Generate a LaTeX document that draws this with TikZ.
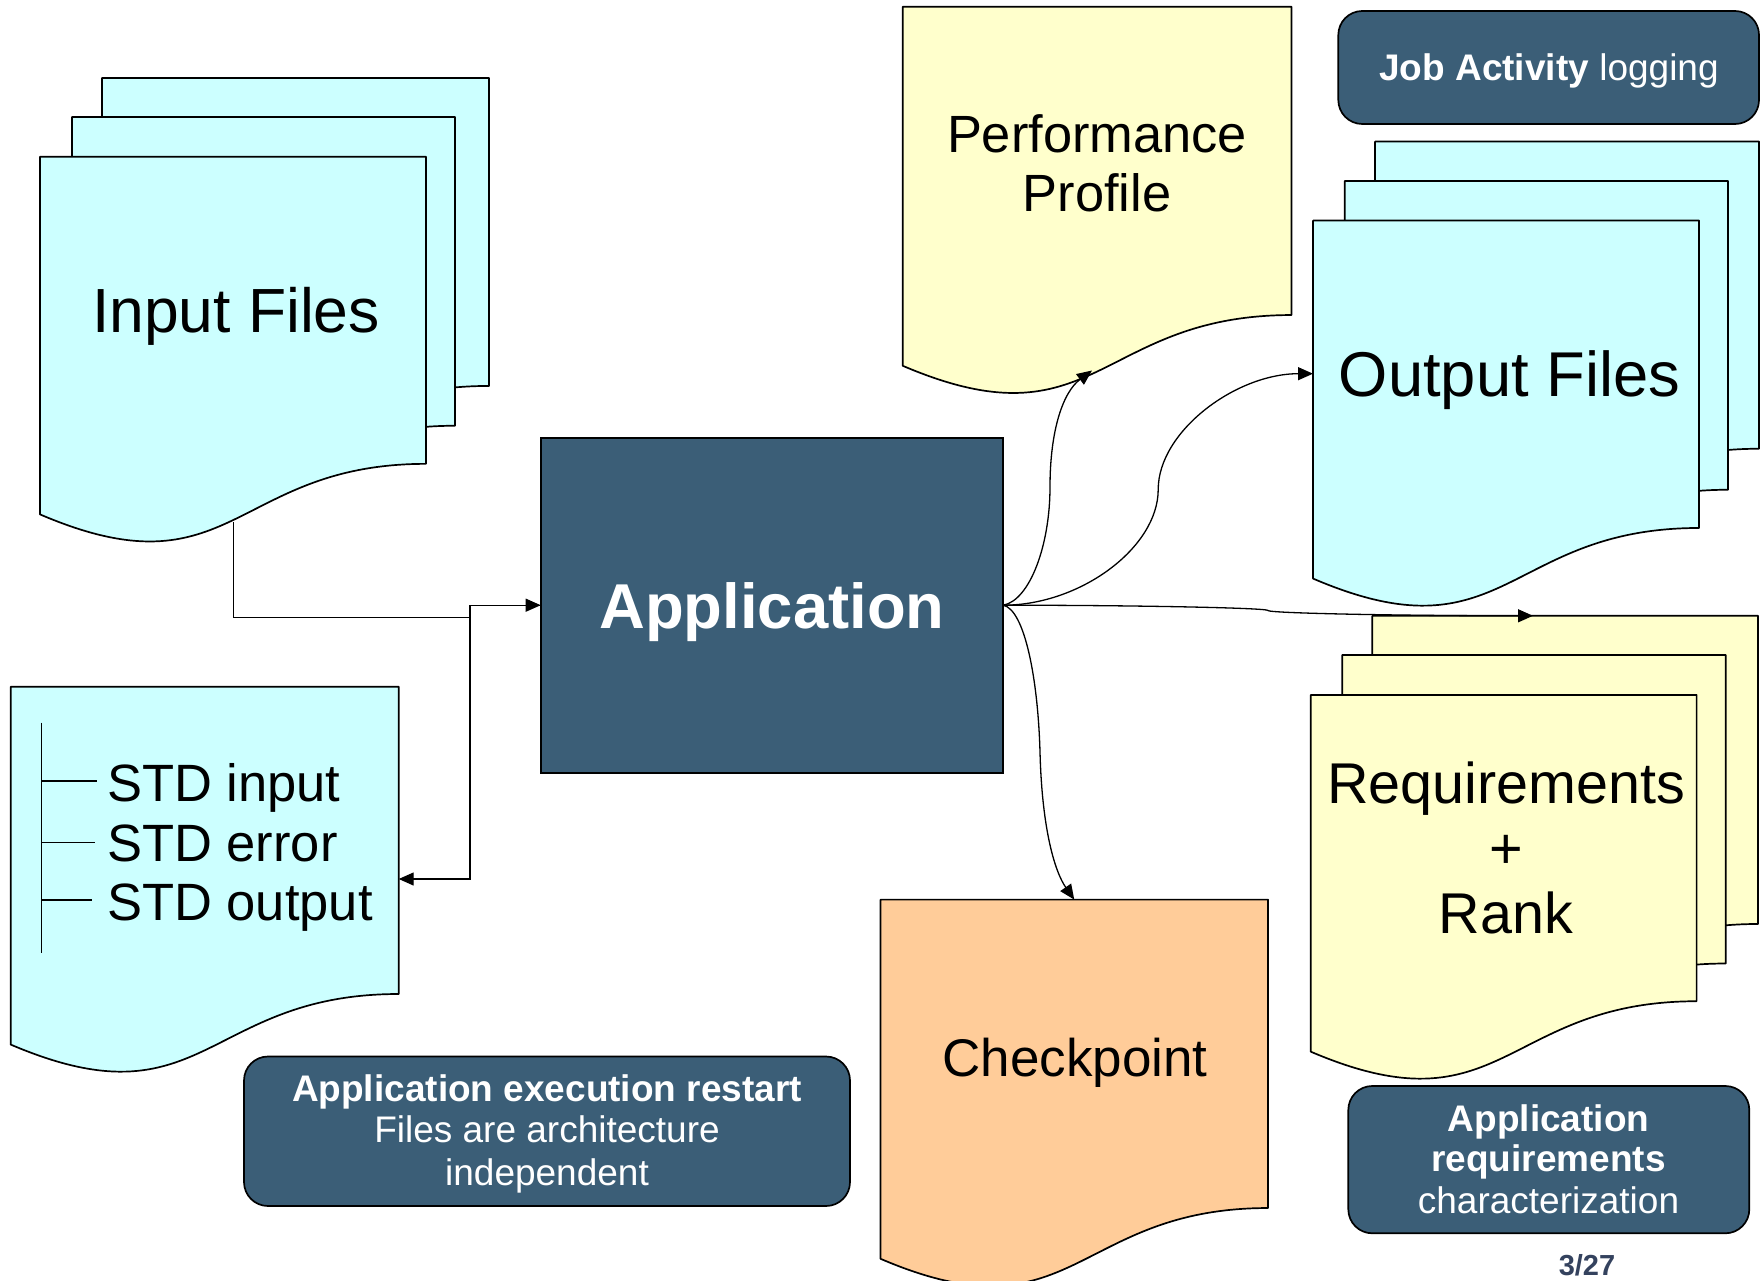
\documentclass[tikz,border=0pt]{standalone}
\usepackage{fontspec}
\setmainfont{Liberation Sans}
\usetikzlibrary{arrows.meta,calc}

\definecolor{paperblue}{RGB}{204,255,255}
\definecolor{paperyellow}{RGB}{255,255,204}
\definecolor{paperorange}{RGB}{255,204,153}
\definecolor{slate}{RGB}{59,94,119}
\definecolor{pagenum}{RGB}{52,66,94}

\newcommand\fsz[1]{\fontsize{#1}{#1}\selectfont}

% a document sheet with a wavy lower edge, drawn over an invisible frame node
% #1 name, #2 left, #3 top, #4 width, #5 height, #6 fill colour
\newcommand\sheet[6]{%
  \node[frame, minimum width=#4pt, minimum height=#5pt] (#1) at (#2,#3) {};
  \draw[pageline, fill=#6] (#1.north west) -- (#1.north east)
    -- ($(#1.north east)!0.80194!(#1.south east)$)
    .. controls ($(#1.north)!0.80194!(#1.south)$) and ($(#1.north)!1.15!(#1.south)$)
    .. ($(#1.north west)!0.93389!(#1.south west)$) -- cycle;}

\tikzset{
  pageline/.style={draw=black, line width=1.7pt, line join=round},
  frame/.style={inner sep=0pt, outer sep=0pt, draw=none, anchor=north west},
  conn/.style={line width=1.3pt, -{Triangle[length=15pt,width=13pt]}},
  plain/.style={line width=1.3pt},
  lbl/.style={inner sep=0pt, anchor=base, text=black},
  wlbl/.style={inner sep=0pt, anchor=base, text=white},
  callout/.style={draw=black, line width=1.7pt, fill=slate, rounded corners=24pt,
    inner sep=0pt, outer sep=0pt, anchor=north west},
  appbox/.style={draw=black, line width=1.7pt, fill=slate, inner sep=0pt,
    outer sep=0pt, anchor=north west},
}

\begin{document}
\begin{tikzpicture}[x=1pt, y=-1pt]
\useasboundingbox (0,0) rectangle (1761,1281);

% input file stack
\sheet{inBack}{102}{78}{387}{384}{paperblue}
\sheet{inMid}{72}{117}{383}{385}{paperblue}
\sheet{inFront}{40}{156.7}{386}{383}{paperblue}
\node[lbl, font=\fsz{62.4}] (inTxt) at (236,332) {Input Files};

% standard streams sheet
\sheet{stdSheet}{10.7}{686.7}{388}{383.2}{paperblue}
\draw[plain] (41.7,722.7) -- (41.7,953);
\draw[plain] (41.7,781) -- (97,781);
\draw[plain] (41.7,842.7) -- (95,842.7);
\draw[plain] (41.7,900) -- (92,900);
\node[lbl, anchor=base west, font=\fsz{52.5}] (stdA) at (107,801.7) {STD input};
\node[lbl, anchor=base west, font=\fsz{52.5}] (stdB) at (107,861.7) {STD error};
\node[lbl, anchor=base west, font=\fsz{52.5}] (stdC) at (107,920) {STD output};

% performance profile
\sheet{perfSheet}{902.7}{6.7}{388.8}{384.5}{paperyellow}
\node[lbl, font=\fsz{52.4}] (perfA) at (1097,153) {Performance};
\node[lbl, font=\fsz{52.4}] (perfB) at (1097,212) {Profile};

% output file stack
\sheet{outBack}{1375}{141.6}{384}{383}{paperblue}
\sheet{outMid}{1344.8}{181}{383.2}{385}{paperblue}
\sheet{outFront}{1313}{220.6}{386}{383.3}{paperblue}
\node[lbl, font=\fsz{63.3}] (outTxt) at (1509.5,396) {Output Files};

% requirements stack
\sheet{rqBack}{1372.3}{615.8}{385.7}{384.3}{paperyellow}
\sheet{rqMid}{1342.2}{655}{383.5}{384.7}{paperyellow}
\sheet{rqFront}{1310.7}{694.9}{385.9}{382}{paperyellow}
\node[lbl, font=\fsz{57.5}] (rqA) at (1506,803) {Requirements};
\node[lbl, font=\fsz{57.5}] (rqB) at (1506,868) {+};
\node[lbl, font=\fsz{57.5}] (rqC) at (1506,933.5) {Rank};

% checkpoint
\sheet{ckSheet}{880.5}{899.6}{387.5}{384.6}{paperorange}
\node[lbl, font=\fsz{53}] (ckTxt) at (1075,1076) {Checkpoint};

% application
\node[appbox, minimum width=462.6pt, minimum height=335pt] (app) at (540.7,437.7) {};
\node[wlbl, font=\bfseries\fsz{63.4}] (appTxt) at (772,628.3) {Application};

% callouts
\node[callout, minimum width=420.7pt, minimum height=113pt] (jobBox) at (1338.3,11) {};
\node[wlbl, font=\fsz{37}] (jobTxt) at (1549,81) {\textbf{Job Activity} logging};

\node[callout, minimum width=606pt, minimum height=149.5pt] (restartBox) at (244,1056.5) {};
\node[wlbl, font=\bfseries\fsz{37}] (restartA) at (547,1101.7) {Application execution restart};
\node[wlbl, font=\fsz{37}] (restartB) at (547,1142.7) {Files are architecture};
\node[wlbl, font=\fsz{37}] (restartC) at (547,1185) {independent};

\node[callout, minimum width=401pt, minimum height=147.3pt] (reqBox) at (1348.3,1086) {};
\node[wlbl, font=\bfseries\fsz{37}] (reqA) at (1548.5,1131.7) {Application};
\node[wlbl, font=\bfseries\fsz{37}] (reqB) at (1548.5,1171.7) {requirements};
\node[wlbl, font=\fsz{37}] (reqC) at (1548.5,1213.3) {characterization};

\node[inner sep=0pt, anchor=base, text=pagenum, font=\bfseries\fsz{29}] (pageNo) at (1587,1275) {3/27};

% connection points
\coordinate (inOut) at (233.3,522);
\coordinate (busIn) at (470,617.3);
\coordinate (busTop) at (470,605.2);
\coordinate (busBot) at (470,879);
\coordinate (stdPort) at (stdSheet.north east |- busBot);
\coordinate (perfPort) at (1092,370.5);
\coordinate (outPort) at (1313,373.7);
\coordinate (rqPort) at (1533,615.8);
\coordinate (ckPort) at (ckSheet.north);

% connectors into and out of the application
\draw[conn] (inOut) |- (busIn) |- (app.west);
\draw[conn] (app.west) -- (busTop) -- (busBot) -- (stdPort);

\draw[conn] (app.east) .. controls (1030,600) and (1050,545) .. (1050,487)
  .. controls (1050,430) and (1063,392) .. (perfPort);
\draw[conn] (app.east) .. controls (1080.7,605.2) and (1158.2,547.3) .. (1158.2,489.5)
  .. controls (1158.2,431.6) and (1235.6,373.7) .. (outPort);
\draw[conn] (app.east) .. controls (1135.7,605.2) and (1268,607.9) .. (1268,610.5)
  .. controls (1268,613.2) and (1400.5,615.8) .. (rqPort);
\draw[conn] (app.east) .. controls (1025,610) and (1038,680) .. (1040,752)
  .. controls (1042,830) and (1055,872) .. (ckPort);
\end{tikzpicture}
\end{document}
